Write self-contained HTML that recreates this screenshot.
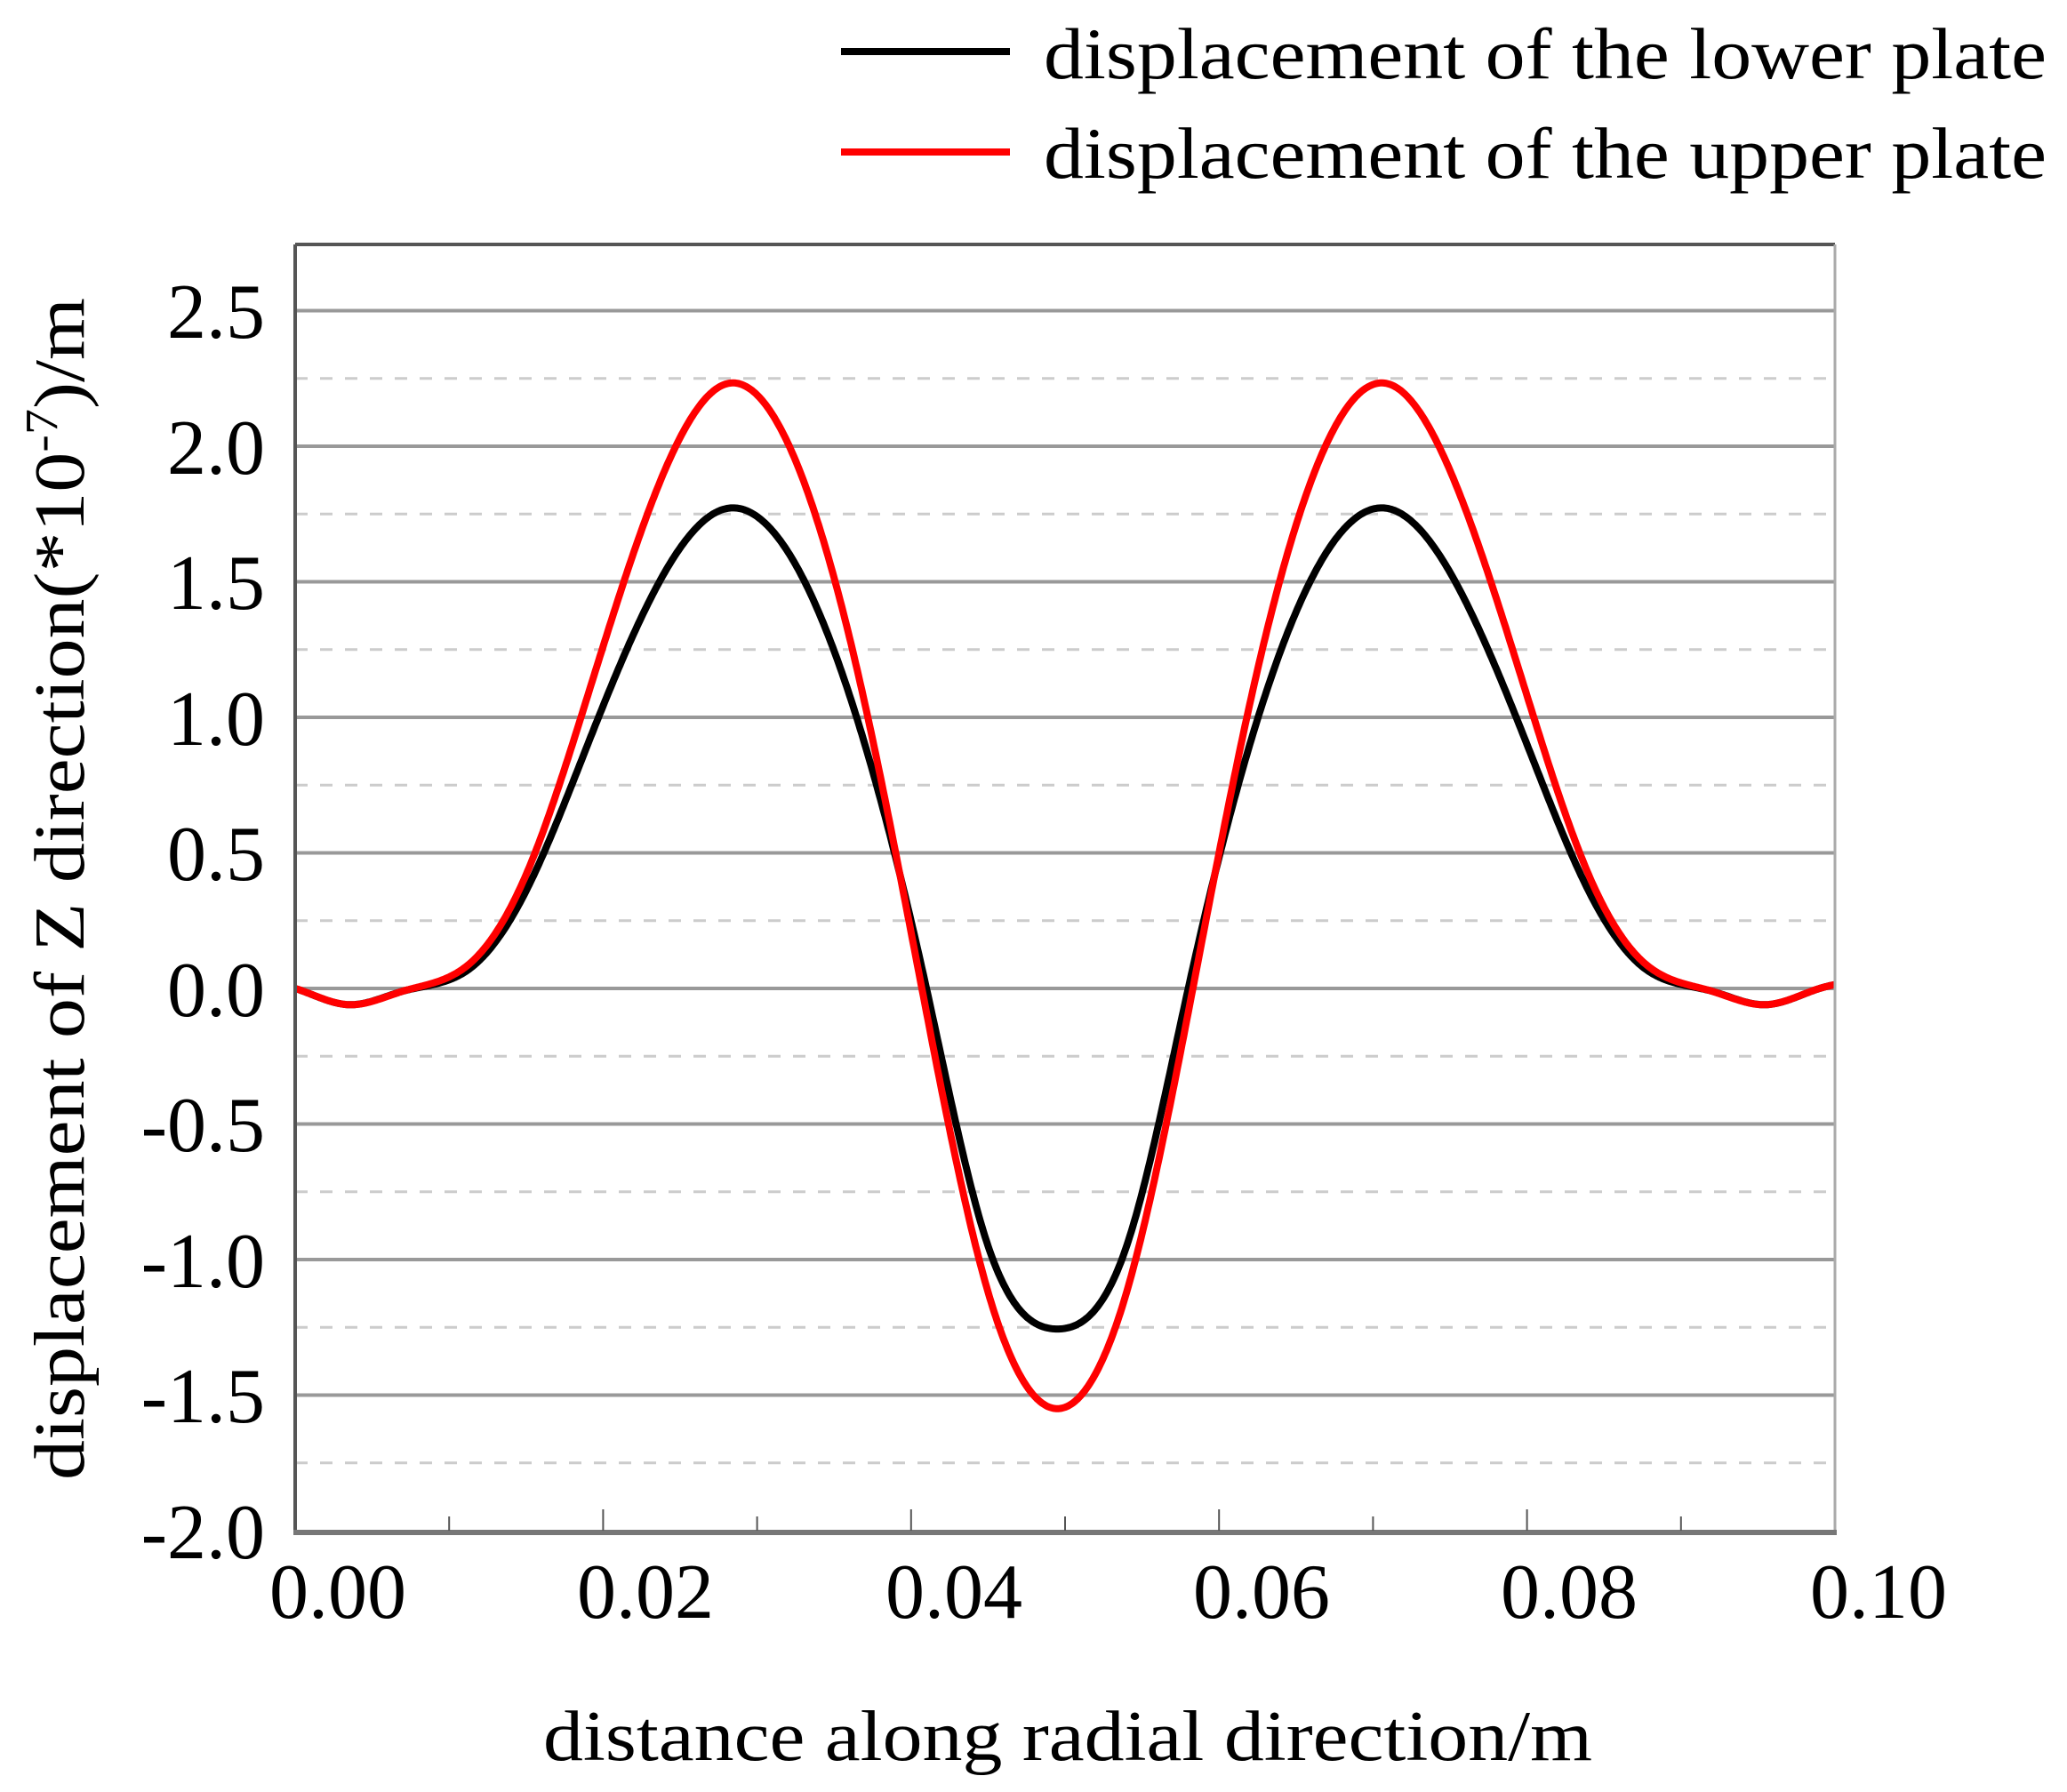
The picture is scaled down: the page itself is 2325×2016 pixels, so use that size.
<!DOCTYPE html>
<html><head><meta charset="utf-8">
<style>
html,body{margin:0;padding:0;background:#fff;}
svg{display:block;}
text{font-family:"Liberation Serif",serif;fill:#000;}
</style></head>
<body>
<svg id="s" width="2325" height="2016" viewBox="0 0 2325 2016" xmlns="http://www.w3.org/2000/svg">
<rect width="2325" height="2016" fill="#fff"/>
<g id="grid"></g>
<g id="curves"></g>
<line x1="332" y1="275" x2="2064" y2="275" stroke="#555" stroke-width="4"/>
<line x1="2064" y1="275" x2="2064" y2="1725" stroke="#aaa" stroke-width="3"/>
<line x1="332" y1="275" x2="332" y2="1727" stroke="#555" stroke-width="4"/>
<line x1="330" y1="1724" x2="2066" y2="1724" stroke="#777" stroke-width="6"/>
<g id="ticks"></g>
<g font-size="88" text-anchor="end">
<text x="298" y="380">2.5</text>
<text x="298" y="533">2.0</text>
<text x="298" y="685">1.5</text>
<text x="298" y="838">1.0</text>
<text x="298" y="990">0.5</text>
<text x="298" y="1143">0.0</text>
<text x="298" y="1295">-0.5</text>
<text x="298" y="1448">-1.0</text>
<text x="298" y="1600">-1.5</text>
<text x="298" y="1753">-2.0</text>
</g>
<g font-size="88" text-anchor="middle">
<text x="380" y="1820">0.00</text>
<text x="726" y="1820">0.02</text>
<text x="1073" y="1820">0.04</text>
<text x="1419" y="1820">0.06</text>
<text x="1765" y="1820">0.08</text>
<text x="2113" y="1820">0.10</text>
</g>
<text x="1201" y="1980" font-size="80" text-anchor="middle" textLength="1180" lengthAdjust="spacingAndGlyphs">distance along radial direction/m</text>
<text transform="translate(94,1000) rotate(-90)" font-size="80" text-anchor="middle" textLength="1330" lengthAdjust="spacingAndGlyphs">displacement of Z direction(*10<tspan dy="-30" font-size="52">-7</tspan><tspan dy="30">)/m</tspan></text>
<line x1="946" y1="58" x2="1136" y2="58" stroke="#000" stroke-width="8"/>
<line x1="946" y1="171" x2="1136" y2="171" stroke="#f00" stroke-width="8"/>
<text x="1174" y="88" font-size="82" textLength="1128" lengthAdjust="spacingAndGlyphs">displacement of the lower plate</text>
<text x="1174" y="200" font-size="82" textLength="1128" lengthAdjust="spacingAndGlyphs">displacement of the upper plate</text>
</svg>
<script>
var NS="http://www.w3.org/2000/svg";
function X(v){return 332+v/0.1*1732;}
function Y(v){return 1112-v*305;}
function el(p,t,a){var e=document.createElementNS(NS,t);for(var k in a)e.setAttribute(k,a[k]);p.appendChild(e);return e;}
var g=document.getElementById('grid');
for(var i=-4;i<=5;i++){var v=i*0.5;
 if(i>-4) el(g,'line',{x1:332,x2:2064,y1:Y(v),y2:Y(v),stroke:'#999','stroke-width':4});
 var w=v+0.25; if(w<2.75) el(g,'line',{x1:332,x2:2064,y1:Y(w),y2:Y(w),stroke:'#ccc','stroke-width':3,'stroke-dasharray':'14 14'});
}
var t=document.getElementById('ticks');
for(var i=1;i<10;i++){var x=X(i*0.01);var L=(i%2==0)?24:16;
 el(t,'line',{x1:x,x2:x,y1:1722,y2:1722-L,stroke:'#555','stroke-width':2});}
function spline(pts){ // natural cubic spline, pts mirrored for symmetry
 var P=[];for(var i=pts.length-1;i>0;i--)P.push([-pts[i][0],pts[i][1]]);P=P.concat(pts);
 var n=P.length,x=P.map(p=>p[0]),y=P.map(p=>p[1]),h=[],a=[],l=[1],mu=[0],z=[0],c=new Array(n).fill(0),b=[],d=[];
 for(var i=0;i<n-1;i++)h[i]=x[i+1]-x[i];
 for(var i=1;i<n-1;i++)a[i]=3/h[i]*(y[i+1]-y[i])-3/h[i-1]*(y[i]-y[i-1]);
 for(var i=1;i<n-1;i++){l[i]=2*(x[i+1]-x[i-1])-h[i-1]*mu[i-1];mu[i]=h[i]/l[i];z[i]=(a[i]-h[i-1]*z[i-1])/l[i];}
 for(var j=n-2;j>=0;j--){c[j]=z[j]-mu[j]*c[j+1];b[j]=(y[j+1]-y[j])/h[j]-h[j]*(c[j+1]+2*c[j])/3;d[j]=(c[j+1]-c[j])/(3*h[j]);}
 return function(v){var j=0;while(j<n-2&&v>x[j+1])j++;var dx=v-x[j];return y[j]+b[j]*dx+c[j]*dx*dx+d[j]*dx*dx*dx;};
}
var low=[[0,-1.256],[0.0045,-0.95],[0.0085,0],[0.0125,0.9],[0.0215,1.77],[0.0305,0.9],[0.0345,0.36],[0.038,0.08],[0.0425,-0.01],[0.046,-0.06],[0.0495,0],[0.053,0.03]];
var up=[[0,-1.55],[0.0045,-1.12],[0.0088,0],[0.0125,1.05],[0.0215,2.23],[0.0305,1.08],[0.0345,0.42],[0.038,0.1],[0.0425,-0.01],[0.046,-0.06],[0.0495,0],[0.053,0.03]];
var c=document.getElementById('curves');
function path(pts,col){var f=spline(pts);var d='';for(var k=0;k<=1000;k++){var x=k/1000*0.1;var y=f(Math.abs(x-0.0495));d+=(k?'L':'M')+X(x).toFixed(1)+','+Y(y).toFixed(1);}
 el(c,'path',{d:d,fill:'none',stroke:col,'stroke-width':8,'stroke-linejoin':'round'});}
path(low,'#000');path(up,'#f00');
</script>
</body></html>
